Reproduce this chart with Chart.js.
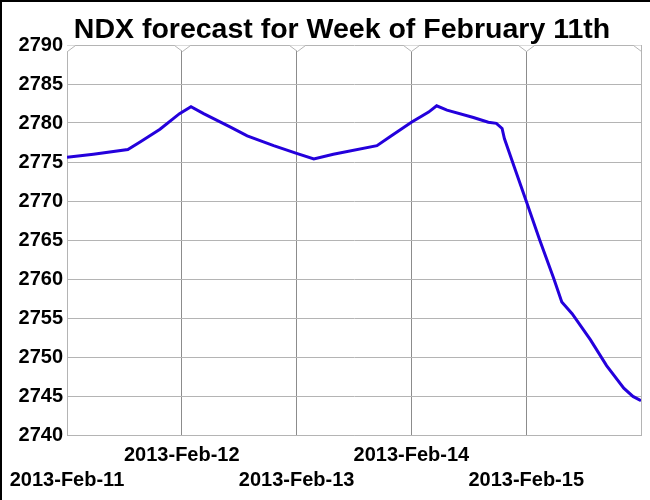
<!DOCTYPE html>
<html>
<head>
<meta charset="utf-8">
<script src="https://cdn.jsdelivr.net/npm/chart.js@4/dist/chart.umd.min.js"></script>
<style>
  html, body { margin: 0; padding: 0; background: #fff; }
  #wrap { width: 650px; height: 500px; position: relative; }
</style>
</head>
<body>
<div id="wrap"><canvas id="chart"></canvas></div>
<script>
// days since 2013-Feb-11 00:00
var dayOffsets = [0.00, 0.23, 0.53, 0.64, 0.81, 0.98, 1.08, 1.19, 1.42, 1.57, 1.80, 2.00, 2.15, 2.32, 2.70, 2.81, 3.00, 3.15, 3.22, 3.31, 3.54, 3.67, 3.74, 3.79, 3.81, 3.90, 4.00, 4.12, 4.24, 4.31, 4.40, 4.56, 4.70, 4.85, 4.93, 5.00];
var forecastValues = [2775.6, 2776.0, 2776.6, 2777.6, 2779.2, 2781.2, 2782.1, 2781.2, 2779.5, 2778.35, 2777.1, 2776.1, 2775.4, 2776.0, 2777.1, 2778.2, 2780.1, 2781.4, 2782.2, 2781.65, 2780.7, 2780.1, 2779.95, 2779.3, 2778.0, 2774.2, 2770.0, 2764.9, 2760.05, 2757.05, 2755.55, 2752.2, 2748.9, 2746.0, 2744.95, 2744.4];
var dayLabels = ['2013-Feb-11', '2013-Feb-12', '2013-Feb-13', '2013-Feb-14', '2013-Feb-15', ''];
var titleText = 'NDX forecast for Week of February 11th';
var yMin = 2740, yMax = 2790, yStep = 5;

var FONT = '"Liberation Sans", Arial, sans-serif';
var LIGHT = '#b4b4b4', DARK = '#8c8c8c';

var points = [];
for (var i = 0; i < dayOffsets.length; i++) points.push({ x: dayOffsets[i], y: forecastValues[i] });

var decor = {
  id: 'decor',
  afterDatasetsDraw: function(chart) {
    var ctx = chart.ctx, a = chart.chartArea, xs = chart.scales.x;
    ctx.save();
    ctx.beginPath();
    ctx.rect(a.left, a.top - 1, a.right - a.left, a.bottom - a.top + 1);
    ctx.clip();
    for (var d = 0; d < dayLabels.length; d++) {
      var px = Math.round(xs.getPixelForValue(d)) + 0.5;
      ctx.fillStyle = '#fff';
      ctx.beginPath();
      ctx.moveTo(px - 8, a.top + 0.5); ctx.lineTo(px, a.top + 6.5); ctx.lineTo(px + 8, a.top + 0.5);
      ctx.closePath(); ctx.fill();
      ctx.strokeStyle = LIGHT; ctx.lineWidth = 1;
      ctx.beginPath();
      ctx.moveTo(px - 8, a.top + 0.5); ctx.lineTo(px, a.top + 6.5); ctx.lineTo(px + 8, a.top + 0.5);
      ctx.stroke();
    }
    ctx.restore();
  },
  afterDraw: function(chart) {
    var ctx = chart.ctx;
    ctx.save();
    ctx.fillStyle = '#000';
    ctx.fillRect(0, 0, chart.width, 2);
    ctx.fillRect(0, 0, 2, chart.height);
    ctx.font = 'bold 28.5px ' + FONT;
    ctx.textAlign = 'center';
    ctx.textBaseline = 'alphabetic';
    ctx.fillText(titleText, 342, 38);
    ctx.restore();
  }
};

new Chart(document.getElementById('chart'), {
  type: 'line',
  data: { datasets: [{ data: points, borderColor: '#2400dc', borderWidth: 3, pointRadius: 0, tension: 0, fill: false }] },
  options: {
    responsive: true, maintainAspectRatio: false, animation: false,
    layout: { padding: { top: 45, right: 9, left: 0, bottom: 0 } },
    plugins: { legend: { display: false }, tooltip: { enabled: false }, title: { display: false } },
    scales: {
      x: {
        type: 'linear', min: 0, max: 5,
        afterFit: function(s) { s.height = 65; },
        border: { color: LIGHT },
        grid: { drawTicks: false, color: function(c) { return c.tick && c.tick.value > 0 && c.tick.value < 5 ? DARK : LIGHT; } },
        ticks: {
          stepSize: 1, padding: 8, color: '#000', maxRotation: 0, autoSkip: false,
          font: { family: FONT, size: 20, weight: 'bold', lineHeight: 1.25 },
          callback: function(v) { var l = dayLabels[v] || ''; return v % 2 === 0 ? ['', l] : [l]; }
        }
      },
      y: {
        min: yMin, max: yMax,
        afterFit: function(s) { s.width = 67; },
        border: { color: LIGHT },
        grid: { drawTicks: false, color: LIGHT },
        ticks: { stepSize: yStep, padding: 4, color: '#000', font: { family: FONT, size: 20, weight: 'bold' }, callback: function(v) { return String(v); } }
      }
    }
  },
  plugins: [decor]
});
</script>
</body>
</html>
